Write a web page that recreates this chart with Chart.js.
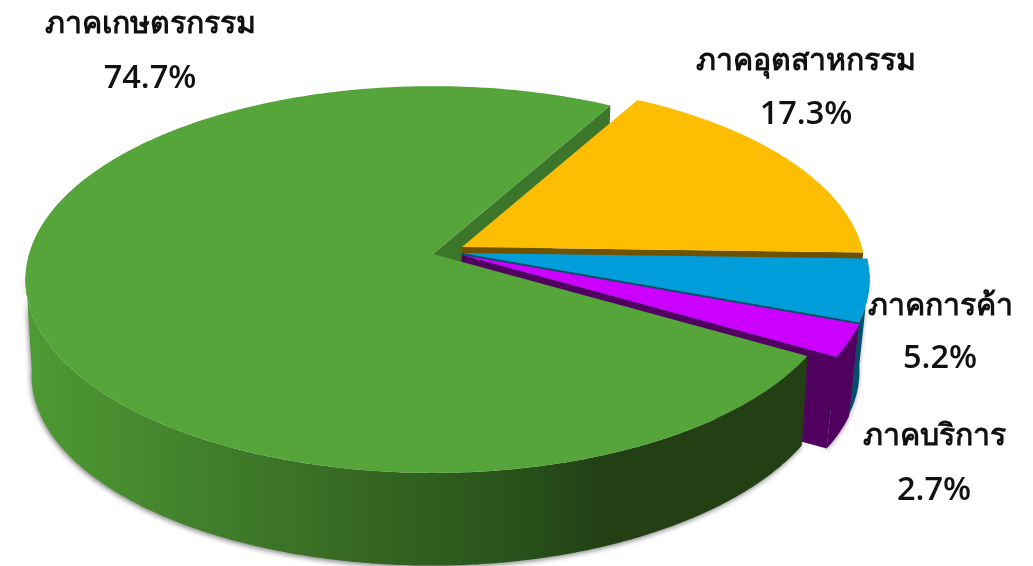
<!DOCTYPE html>
<html>
<head>
<meta charset="utf-8">
<script src="https://cdn.jsdelivr.net/npm/chart.js@4"></script>
<style>
    html, body { margin: 0; padding: 0; background: #fff; overflow: hidden; }
    #chart-wrap { position: relative; width: 1033px; height: 566px; }
</style>
</head>
<body>
<div id="chart-wrap"><canvas id="grafico"></canvas></div>
<script>
const categories = ['ภาคอุตสาหกรรม', 'ภาคการค้า', 'ภาคบริการ', 'ภาคเกษตรกรรม']
const shares = [17.3, 5.2, 2.7, 74.7]
const topColors = ['#FDBD00', '#009DDB', '#CC00FF', '#55A53A']
const wallColors = ['#6E5200', '#004F70', '#50005F', '#3B762B']

// where each text block sits, centre x and the two baselines
const labelSpots = [[806, 70, 124], [940, 315, 368], [934, 445, 500], [150, 33, 88]]
// apex of each slice after the explode
const apexes = [[462, 247], [462, 253], [462, 255], [433, 254]]
// the exploded slices sit a bit left and higher on their underside
const lowShifts = [[-4, -2], [-4, -3], [-4, -3], [0, 0]]
const radiusScales = [0.99, 1, 1, 1]

const RADIUS = 404
const TILT = 190
const PERSPECTIVE = 0.132
const DEPTH = 96
const BOTTOM_SCALE = 0.985
const FRONT_FROM = 0.1

const _project = (i, angle, r, low) => {
    const apex = apexes[i]
    const w = 1 - PERSPECTIVE * r * Math.sin(angle)
    const size = radiusScales[i] * r / w
    if (!low) return [apex[0] + RADIUS * size * Math.cos(angle), apex[1] + TILT * size * Math.sin(angle)]
    const x = BOTTOM_SCALE * RADIUS * size * Math.cos(angle)
    // picture is rolled slightly, the wall gets shorter on the right of the big slice
    const roll = i === 3 && x > 0 ? 5 * (x / 373) ** 2 : 0
    return [
        apex[0] + lowShifts[i][0] + x,
        apex[1] + lowShifts[i][1] + DEPTH - roll + BOTTOM_SCALE * TILT * size * Math.sin(angle),
    ]
}

const _arcPoints = (i, from, to, low) => {
    const points = []
    const steps = Math.max(2, Math.ceil(Math.abs(to - from) / 0.01))
    for (let s = 0; s <= steps; s++) points.push(_project(i, from + (to - from) * s / steps, 1, low))
    return points
}

const _fillPoly = (ctx, points, fill) => {
    ctx.beginPath()
    points.forEach(([x, y], i) => i ? ctx.lineTo(x, y) : ctx.moveTo(x, y))
    ctx.closePath()
    ctx.fillStyle = fill
    ctx.fill()
}

const _greenWall = (ctx) => {
    const gradient = ctx.createLinearGradient(30, 0, 800, 0)
    gradient.addColorStop(0, '#4E9A34')
    gradient.addColorStop(0.39, '#386C24')
    gradient.addColorStop(0.65, '#26501A')
    gradient.addColorStop(0.75, '#233F14')
    gradient.addColorStop(1, '#233F14')
    return gradient
}

// only the part of the rim that faces the viewer
const _frontRange = (arc) => {
    const twoPi = Math.PI * 2
    let start = arc.startAngle
    while (start < 0) start += twoPi
    const span = arc.endAngle - arc.startAngle
    const from = Math.max(start, FRONT_FROM)
    const to = Math.min(start + span, Math.PI - FRONT_FROM)
    return from < to ? [from, to] : null
}

const _drawOuterWall = (ctx, arc, i) => {
    const range = _frontRange(arc)
    if (!range) return
    const top = _arcPoints(i, range[0], range[1], false)
    const low = _arcPoints(i, range[0], range[1], true).reverse()
    ctx.save()
    ctx.shadowColor = 'rgba(60, 60, 60, 0.6)'
    ctx.shadowBlur = 5
    ctx.shadowOffsetX = -1
    ctx.shadowOffsetY = 2
    _fillPoly(ctx, top.concat(low), i === 3 ? _greenWall(ctx) : wallColors[i])
    ctx.restore()
}

// the radial face that looks towards the viewer
const _drawRadialWall = (ctx, i, angle, fill) => {
    _fillPoly(ctx, [apexes[i], _project(i, angle, 1, false), _project(i, angle, 1, true), _project(i, angle, 0, true)], fill)
}

const _drawTop = (ctx, arc, i) => {
    _fillPoly(ctx, [apexes[i]].concat(_arcPoints(i, arc.startAngle, arc.endAngle, false)), topColors[i])
}

const pie3d = {
    id: 'pie3d',
    beforeDatasetDraw(chart) {
        const ctx = chart.ctx
        const arcs = chart.getDatasetMeta(0).data
        // green sits behind the yellow slice with its cut face, and in front of the rest with its top
        _drawRadialWall(ctx, 3, arcs[3].endAngle, wallColors[3])
        ;[0, 1, 2].forEach((i) => {
            _drawOuterWall(ctx, arcs[i], i)
            _drawRadialWall(ctx, i, arcs[i].endAngle, wallColors[i])
            _drawTop(ctx, arcs[i], i)
        })
        _drawOuterWall(ctx, arcs[3], 3)
        _drawTop(ctx, arcs[3], 3)
        return false
    },
    afterDatasetsDraw(chart) {
        const ctx = chart.ctx
        ctx.save()
        ctx.fillStyle = '#111'
        ctx.textAlign = 'center'
        categories.forEach((name, i) => {
            const [x, nameY, shareY] = labelSpots[i]
            ctx.font = 'bold 30.3px "Noto Sans", "Open Sans", sans-serif'
            ctx.fillText(name, x, nameY)
            ctx.font = '600 32.5px "Open Sans", "Noto Sans", sans-serif'
            ctx.fillText(shares[i].toFixed(1) + '%', x, shareY)
        })
        ctx.restore()
    },
}

new Chart(document.getElementById('grafico'), {
    type: 'pie',
    data: {
        labels: categories,
        datasets: [{ data: shares, backgroundColor: topColors, borderWidth: 0 }],
    },
    options: {
        responsive: true,
        maintainAspectRatio: false,
        animation: false,
        rotation: 29.3,
        events: [],
        plugins: { legend: { display: false }, tooltip: { enabled: false } },
    },
    plugins: [pie3d],
})
</script>
</body>
</html>
